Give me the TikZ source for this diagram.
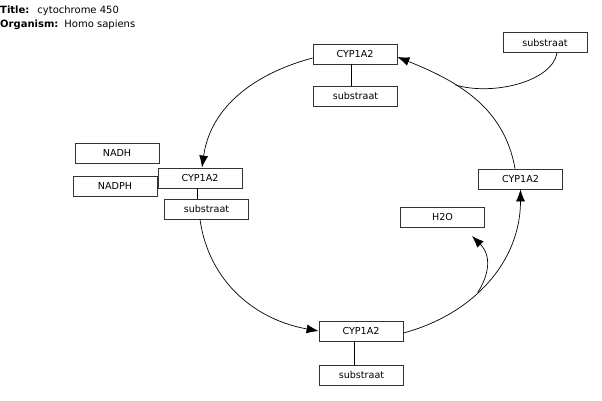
\documentclass[tikz,border=0pt]{standalone}
\usepackage{fontspec}
\setmainfont{DejaVu Sans}
\usetikzlibrary{arrows.meta}
\begin{document}
\begin{tikzpicture}[x=1pt,y=-1pt,
  box/.style={draw=black!80,line width=0.8pt,minimum width=84pt,minimum height=20pt,inner sep=0pt,font=\fontsize{9.6}{11}\selectfont},
  conn/.style={line width=0.7pt},
  arr/.style={line width=0.7pt,-{Latex[length=12pt,width=9pt]}},
  lbl/.style={anchor=base west,inner sep=0pt,font=\fontsize{10}{12}\selectfont}]
\useasboundingbox (0,0) rectangle (602,401);
\node[lbl] (t1) at (0,14) {\textbf{Title:}\hspace{8pt}cytochrome 450};
\node[lbl] (t2) at (0,28) {\textbf{Organism:}\hspace{6pt}Homo sapiens};

\node[box] (c1) at (355,54) {CYP1A2};
\node[box] (s1) at (355.5,96) {substraat};
\node[box] (s5) at (545,42.5) {substraat};
\node[box] (nadh) at (117,153) {NADH};
\node[box] (nadph) at (115,186) {NADPH};
\node[box] (c2) at (200,178) {CYP1A2};
\node[box] (s2) at (206.5,209) {substraat};
\node[box] (c4) at (520.5,179) {CYP1A2};
\node[box] (h2o) at (442.5,217) {H2O};
\node[box] (c3) at (361,331) {CYP1A2};
\node[box] (s3) at (361.5,375) {substraat};

\draw[conn] (c1.south -| 351,0) -- (s1.north -| 351,0);
\draw[conn] (c2.south -| 197,0) -- (s2.north -| 197,0);
\draw[conn] (c3.south -| 354,0) -- (s3.north -| 354,0);

\draw[arr] (c1.west |- 0,58) to[out=195,in=82] (c2.north -| 202,0);
\draw[arr] (s2.south -| 200,0) to[out=-82,in=170] (c3.west);
\draw[arr] (c3.east |- 0,333) to[out=15,in=-90] coordinate[pos=0.42] (j2) (c4.south);
\draw[arr] (c4.north -| 515,0) to[out=100,in=-22] coordinate[pos=0.64] (j1) (c1.east |- 0,57);
\draw[conn] (s5.south -| 557,0) .. controls (552,82) and (492,96) .. (j1);
\draw[arr] (j2) .. controls (486,280) and (494,258) .. (472,236);
\end{tikzpicture}
\end{document}
